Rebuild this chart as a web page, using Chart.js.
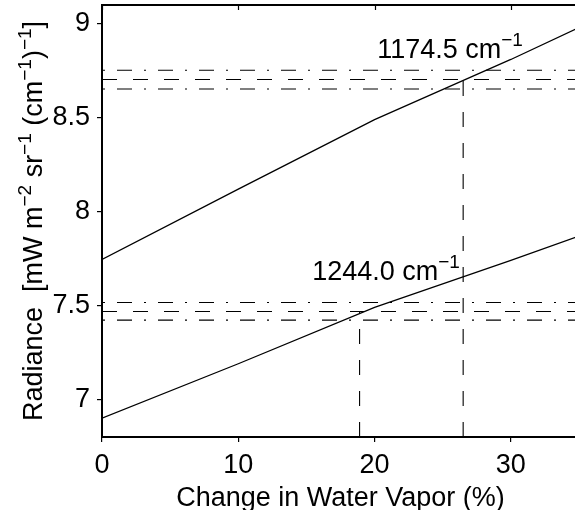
<!DOCTYPE html>
<html>
<head>
<meta charset="utf-8">
<script src="https://cdn.jsdelivr.net/npm/chart.js@4/dist/chart.umd.min.js"></script>
<style>
  html, body { margin: 0; padding: 0; background: #fff; overflow: hidden; }
  canvas { display: block; }
</style>
</head>
<body>
<canvas id="myChart" width="579" height="510"></canvas>
<script>
// Данные
const waterVapor = [0, 10, 20, 30, 35];                  // изменение водяного пара, %
const radiance1174 = [7.745, 8.12, 8.49, 8.81, 8.98];    // канал 1174.5 cm-1
const radiance1244 = [6.90, 7.19, 7.49, 7.74, 7.87];     // канал 1244.0 cm-1
const band1174 = [8.753, 8.703, 8.653];                  // верх, измерение, низ
const band1244 = [7.516, 7.468, 7.422];
const cross1174 = 26.5;                                   // пересечение с измерением
const cross1244 = 18.9;
const xTicks = [0, 10, 20, 30];
const yTicks = [7, 7.5, 8, 8.5, 9];
const xRange = [0, 35];
const yRange = [6.8, 9.1];

const family = '"Liberation Sans", Arial, sans-serif';
const mainFont = '27px ' + family;
const supFont = '19px ' + family;

function zip(xs, ys) {
    return xs.map((x, i) => ({ x: x, y: ys[i] }));
}

function hLine(v) {
    return [{ x: xRange[0], y: v }, { x: xRange[1], y: v }];
}

function lineSet(data, width, dash, offset) {
    return {
        data: data,
        showLine: true,
        borderColor: '#000',
        borderWidth: width,
        borderDash: dash || [],
        borderDashOffset: offset || 0,
        pointRadius: 0,
        tension: 0
    };
}

const dashDot = [15, 12, 2, 12];
const dashed = [15, 16];

// текст с верхними индексами: [строка, верхний индекс?]
function drawRich(ctx, parts, x, y, center, rise) {
    let total = 0;
    parts.forEach(p => {
        ctx.font = p[1] ? supFont : mainFont;
        total += ctx.measureText(p[0]).width;
    });
    let cx = center ? x - total / 2 : x;
    parts.forEach(p => {
        ctx.font = p[1] ? supFont : mainFont;
        ctx.fillText(p[0], cx, p[1] ? y - rise : y);
        cx += ctx.measureText(p[0]).width;
    });
}

// убираем запас под подписи делений, чтобы область графика была как на образце
function noPad(s) {
    s.paddingTop = 0;
    s.paddingBottom = 0;
    s.paddingLeft = 0;
    s.paddingRight = 0;
}

const textPlugin = {
    id: 'textPlugin',
    afterDraw(chart) {
        const { ctx, chartArea } = chart;
        const sx = chart.scales.x;
        const sy = chart.scales.y;
        ctx.save();
        ctx.strokeStyle = '#000';
        ctx.fillStyle = '#000';

        // верхняя рамка и внутренние засечки
        ctx.lineWidth = 2;
        ctx.beginPath();
        ctx.moveTo(chartArea.left, chartArea.top);
        ctx.lineTo(chartArea.right, chartArea.top);
        ctx.stroke();
        ctx.lineWidth = 1.2;
        ctx.beginPath();
        xTicks.forEach(v => {
            const px = Math.round(sx.getPixelForValue(v)) + 0.5;
            ctx.moveTo(px, chartArea.top);
            ctx.lineTo(px, chartArea.top + 5);
        });
        ctx.stroke();

        ctx.textBaseline = 'alphabetic';
        ctx.textAlign = 'left';

        // подписи каналов
        drawRich(ctx, [['1174.5 cm', false], ['\u22121', true]],
            sx.getPixelForValue(20.19), sy.getPixelForValue(8.82), false, 12);
        drawRich(ctx, [['1244.0 cm', false], ['\u22121', true]],
            sx.getPixelForValue(15.42), sy.getPixelForValue(7.635), false, 12);

        // подпись оси X
        ctx.font = mainFont;
        ctx.textAlign = 'center';
        ctx.fillText('Change in Water Vapor (%)', (chartArea.left + chartArea.right) / 2, 506);

        // подпись оси Y
        ctx.textAlign = 'left';
        ctx.translate(42, (chartArea.top + chartArea.bottom) / 2);
        ctx.rotate(-Math.PI / 2);
        drawRich(ctx, [
            ['Radiance  [mW m', false], ['\u22122', true],
            [' sr', false], ['\u22121', true],
            [' (cm', false], ['\u22121', true],
            [')', false], ['\u22121', true],
            [']', false]
        ], 0, 0, true, 11);
        ctx.restore();
    }
};

const ctx = document.getElementById('myChart').getContext('2d');
const myChart = new Chart(ctx, {
    type: 'scatter',
    data: {
        datasets: [
            lineSet(zip(waterVapor, radiance1174), 1.3),
            lineSet(zip(waterVapor, radiance1244), 1.3),
            lineSet(hLine(band1174[0]), 1.1, dashDot, 26),
            lineSet(hLine(band1174[1]), 1.1, dashed),
            lineSet(hLine(band1174[2]), 1.1, dashDot, 26),
            lineSet(hLine(band1244[0]), 1.1, dashDot, 26),
            lineSet(hLine(band1244[1]), 1.1, dashed),
            lineSet(hLine(band1244[2]), 1.1, dashDot, 26),
            lineSet([{ x: cross1174, y: yRange[0] }, { x: cross1174, y: band1174[1] }], 1.1, dashed),
            lineSet([{ x: cross1244, y: yRange[0] }, { x: cross1244, y: band1244[1] }], 1.1, dashed)
        ]
    },
    options: {
        responsive: false,
        animation: false,
        layout: { padding: { top: 5, right: 0, left: 0, bottom: 0 } },
        plugins: { legend: { display: false }, tooltip: { enabled: false } },
        scales: {
            x: {
                type: 'linear',
                min: xRange[0],
                max: xRange[1],
                afterBuildTicks: s => { s.ticks = xTicks.map(v => ({ value: v })); },
                afterFit: s => { s.height = 73; noPad(s); },
                ticks: {
                    color: '#000',
                    font: { family: family, size: 27 },
                    padding: 7,
                    maxRotation: 0,
                    callback: v => String(v)
                },
                grid: { drawOnChartArea: false, drawTicks: true, tickLength: 5, color: '#000', lineWidth: 1.2 },
                border: { display: true, color: '#000', width: 2 }
            },
            y: {
                type: 'linear',
                min: yRange[0],
                max: yRange[1],
                afterBuildTicks: s => { s.ticks = yTicks.map(v => ({ value: v })); },
                afterFit: s => { s.width = 102; noPad(s); },
                ticks: {
                    color: '#000',
                    font: { family: family, size: 27 },
                    padding: 7,
                    callback: v => String(v)
                },
                grid: { drawOnChartArea: false, drawTicks: true, tickLength: 5, color: '#000', lineWidth: 1.2 },
                border: { display: true, color: '#000', width: 2 }
            }
        }
    },
    plugins: [textPlugin]
});
</script>
</body>
</html>
